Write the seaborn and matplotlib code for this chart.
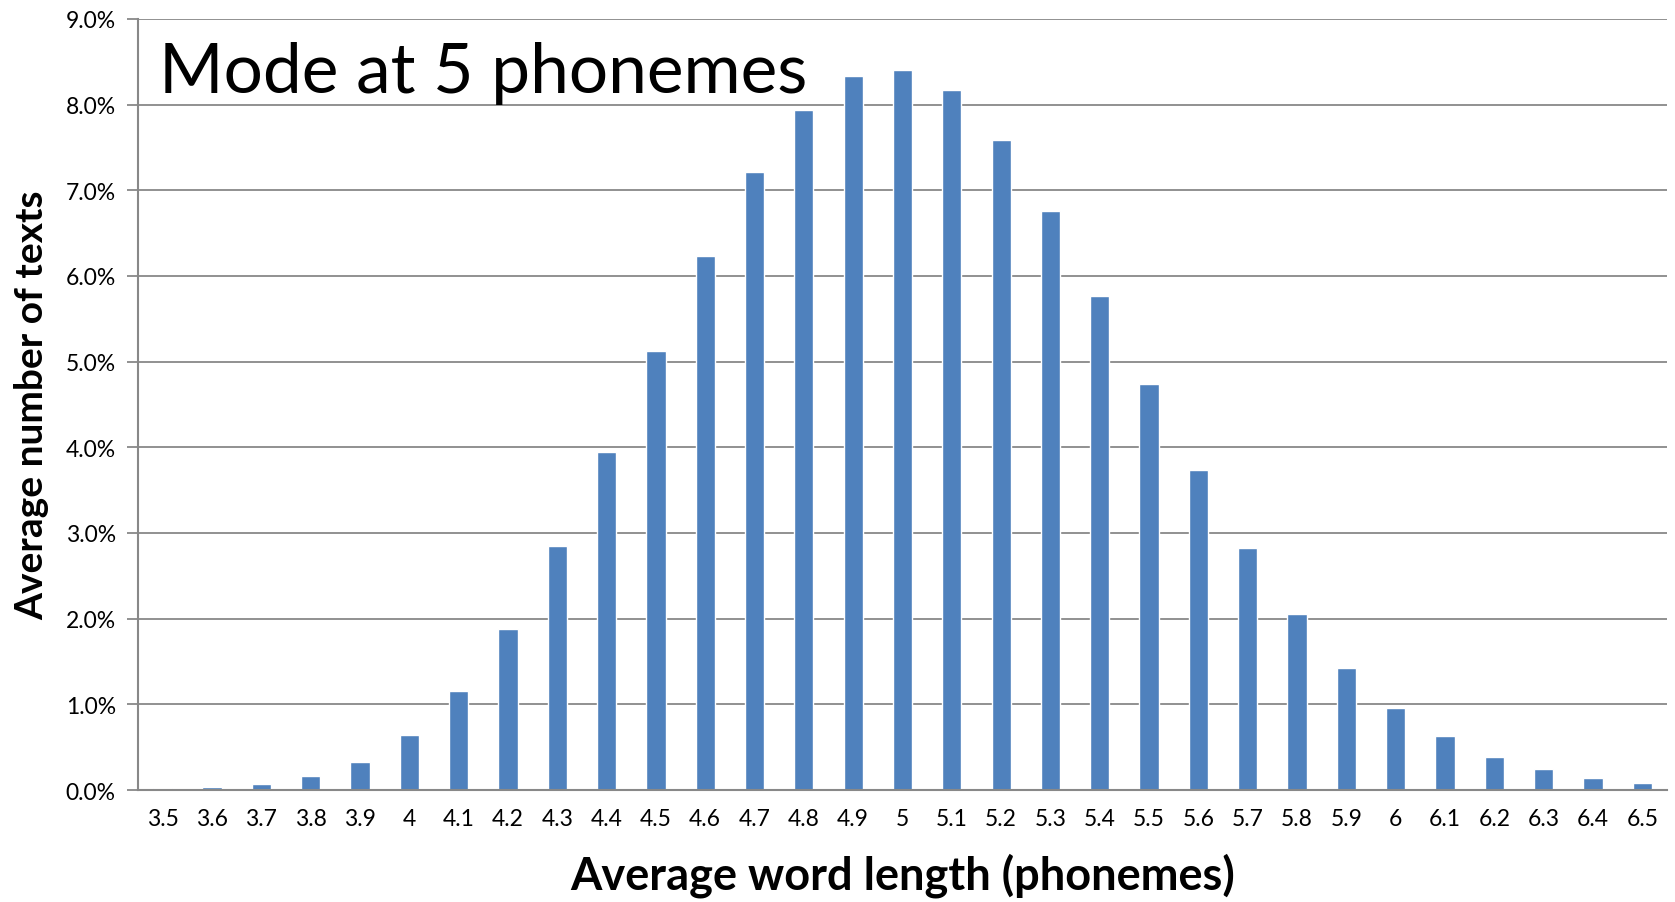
import matplotlib
matplotlib.use("Agg")
import matplotlib.pyplot as plt
import seaborn as sns
import pandas as pd
import numpy as np
from matplotlib.ticker import FuncFormatter, FixedLocator

# average word length bins (phonemes) and share of texts (%)
lengths = ["3.5", "3.6", "3.7", "3.8", "3.9", "4", "4.1", "4.2", "4.3", "4.4",
           "4.5", "4.6", "4.7", "4.8", "4.9", "5", "5.1", "5.2", "5.3", "5.4",
           "5.5", "5.6", "5.7", "5.8", "5.9", "6", "6.1", "6.2", "6.3", "6.4", "6.5"]
shares = [0.02, 0.035, 0.075, 0.16, 0.33, 0.64, 1.15, 1.88, 2.85, 3.94,
          5.12, 6.23, 7.21, 7.94, 8.33, 8.40, 8.17, 7.59, 6.76, 5.77,
          4.74, 3.74, 2.83, 2.05, 1.42, 0.96, 0.63, 0.39, 0.24, 0.14, 0.08]
yticks = [0, 1, 2, 3, 4, 5, 6, 7, 8, 9]

df = pd.DataFrame({"length": lengths, "share": shares})

sns.set_theme(style="white")
plt.rcParams["font.family"] = ["Lato", "DejaVu Sans"]
plt.rcParams["text.color"] = "black"
plt.rcParams["axes.labelcolor"] = "black"

fig = plt.figure(figsize=(16.75, 9.03), dpi=100)
ax = fig.add_axes([0.0824, 0.124, 0.9128, 0.854])

sns.barplot(data=df, x="length", y="share", color="#4F81BD", saturation=1,
            width=0.39, ax=ax, order=lengths)

ax.set_xlim(-0.5, len(lengths) - 0.5)
ax.set_ylim(0, 9)
ax.yaxis.set_major_locator(FixedLocator(yticks))
ax.yaxis.set_major_formatter(FuncFormatter(lambda v, p: f"{v:.1f}%"))
ax.grid(axis="y", color="#888888", linewidth=1.3)
ax.set_axisbelow(True)

# excel style ticks between categories
ax.xaxis.set_minor_locator(FixedLocator(np.arange(-0.5, len(lengths), 1.0)))
ax.tick_params(axis="x", which="major", length=0, pad=13, labelsize=16.5, labelcolor="black")
ax.tick_params(axis="x", which="minor", length=8, width=1.3, color="#888888", direction="out")
ax.tick_params(axis="y", which="major", length=8, width=1.3, color="#888888", pad=8,
               labelsize=16.5, left=True, direction="out", labelcolor="black")

for s in ["top", "right"]:
    ax.spines[s].set_visible(False)
for s in ["left", "bottom"]:
    ax.spines[s].set_color("#888888")
    ax.spines[s].set_linewidth(1.5)

ax.set_xlabel("Average word length (phonemes)", fontsize=32.5, fontweight="bold",
              labelpad=17, color="black")
ax.set_ylabel("Average number of texts", fontsize=28, fontweight="bold",
              labelpad=12, color="black")

ax.text(0.014, 0.905, "Mode at 5 phonemes", transform=ax.transAxes, fontsize=50,
        color="black", ha="left", va="baseline")

fig.savefig("out.png", dpi=100)
